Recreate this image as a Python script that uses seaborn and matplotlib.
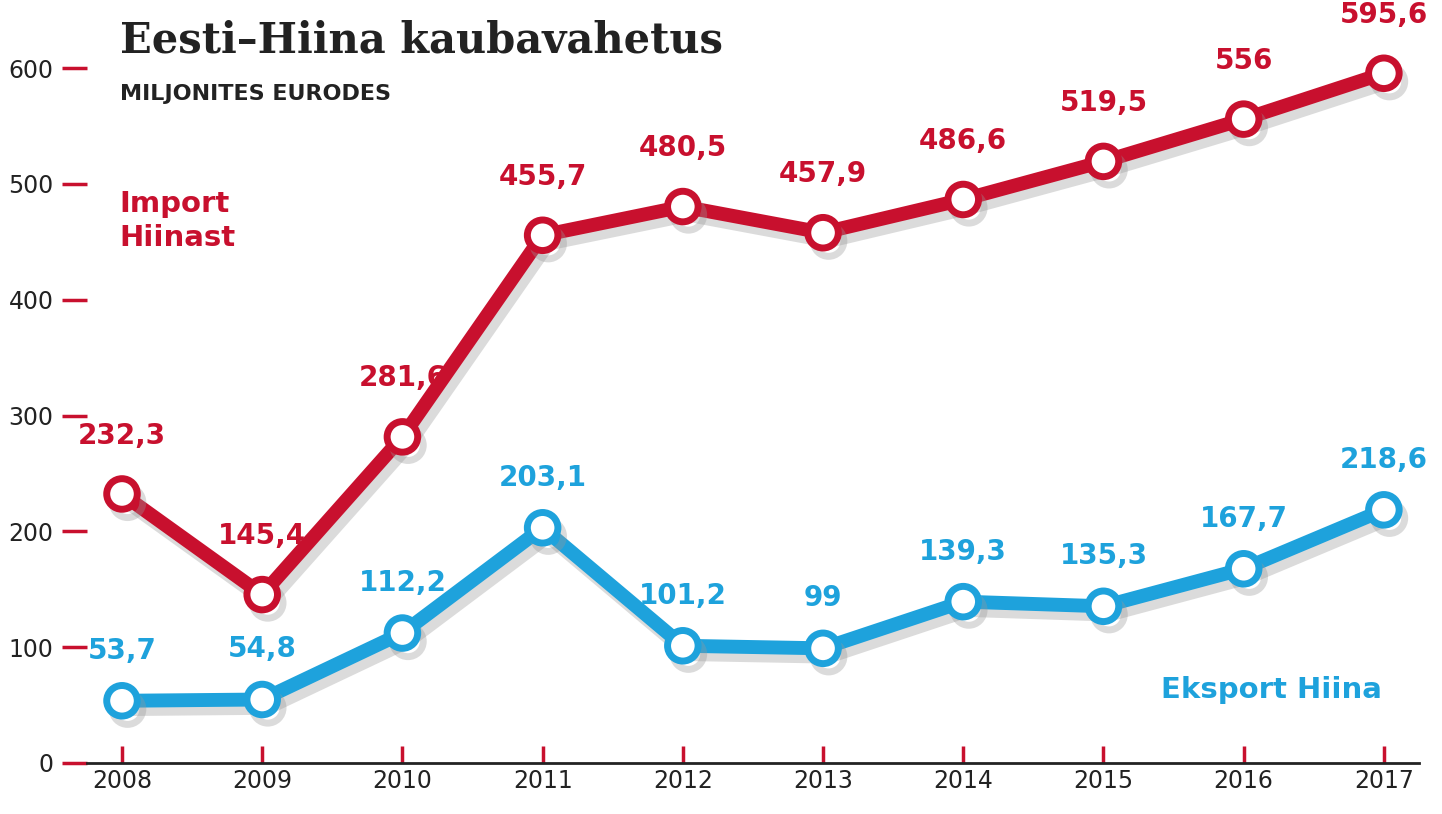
import matplotlib
matplotlib.use("Agg")
import matplotlib.pyplot as plt
import pandas as pd
import seaborn as sns
import matplotlib.patheffects as pe

years = [2008, 2009, 2010, 2011, 2012, 2013, 2014, 2015, 2016, 2017]
import_values = [232.3, 145.4, 281.6, 455.7, 480.5, 457.9, 486.6, 519.5, 556, 595.6]
export_values = [53.7, 54.8, 112.2, 203.1, 101.2, 99, 139.3, 135.3, 167.7, 218.6]
y_ticks = [0, 100, 200, 300, 400, 500, 600]

RED = "#c8102e"
BLUE = "#1ea2dc"


def fmt(v):
    return (f"{v:g}").replace(".", ",")


df = pd.DataFrame({"year": years, "import": import_values, "export": export_values})

fig = plt.figure(figsize=(14.42, 8.14), dpi=100)
ax = fig.add_axes([0.0603, 0.0627, 0.9237, 0.882])
sns.set_style("white")

for col, color in [("import", RED), ("export", BLUE)]:
    shadow = [pe.SimpleLineShadow(offset=(4, -6), shadow_color="#999999", alpha=0.35), pe.Normal()]
    sns.lineplot(data=df, x="year", y=col, ax=ax, color=color, linewidth=10,
                 marker="o", markersize=22, markerfacecolor="white",
                 markeredgecolor=color, markeredgewidth=5, path_effects=shadow,
                 legend=False)

for x, v in zip(years, import_values):
    off = 32 if x != 2009 else 32
    ax.annotate(fmt(v), (x, v), xytext=(0, off), textcoords="offset points",
                ha="center", va="bottom", color=RED, fontsize=20, fontweight="bold")
for x, v in zip(years, export_values):
    ax.annotate(fmt(v), (x, v), xytext=(0, 26), textcoords="offset points",
                ha="center", va="bottom", color=BLUE, fontsize=20, fontweight="bold")

ax.set_xlim(2007.75, 2017.25)
ax.set_ylim(0, 620)
ax.set_xticks(years)
ax.set_yticks(y_ticks)
ax.set_xticklabels([str(y) for y in years], fontsize=17)
ax.set_yticklabels([str(t) for t in y_ticks], fontsize=17)
ax.tick_params(axis="y", colors=RED, length=18, width=2.5, labelcolor="#222222", pad=6)
ax.tick_params(axis="x", colors=RED, length=12, width=2.5, labelcolor="#222222", direction="in", pad=4)
for s in ["top", "right", "left"]:
    ax.spines[s].set_visible(False)
ax.spines["bottom"].set_linewidth(2)
ax.spines["bottom"].set_color("#222222")
ax.set_xlabel("")
ax.set_ylabel("")

fig.text(0.083, 0.925, "Eesti–Hiina kaubavahetus", fontsize=30, fontweight="bold",
         family="DejaVu Serif", color="#222222", va="bottom")
fig.text(0.083, 0.872, "MILJONITES EURODES", fontsize=16, fontweight="bold",
         color="#222222", va="bottom")
fig.text(0.083, 0.69, "Import\nHiinast", fontsize=21, fontweight="bold",
         color=RED, va="bottom", linespacing=1.3)
fig.text(0.958, 0.135, "Eksport Hiina", fontsize=21, fontweight="bold",
         color=BLUE, ha="right", va="bottom")

fig.savefig("out.png", dpi=100)
